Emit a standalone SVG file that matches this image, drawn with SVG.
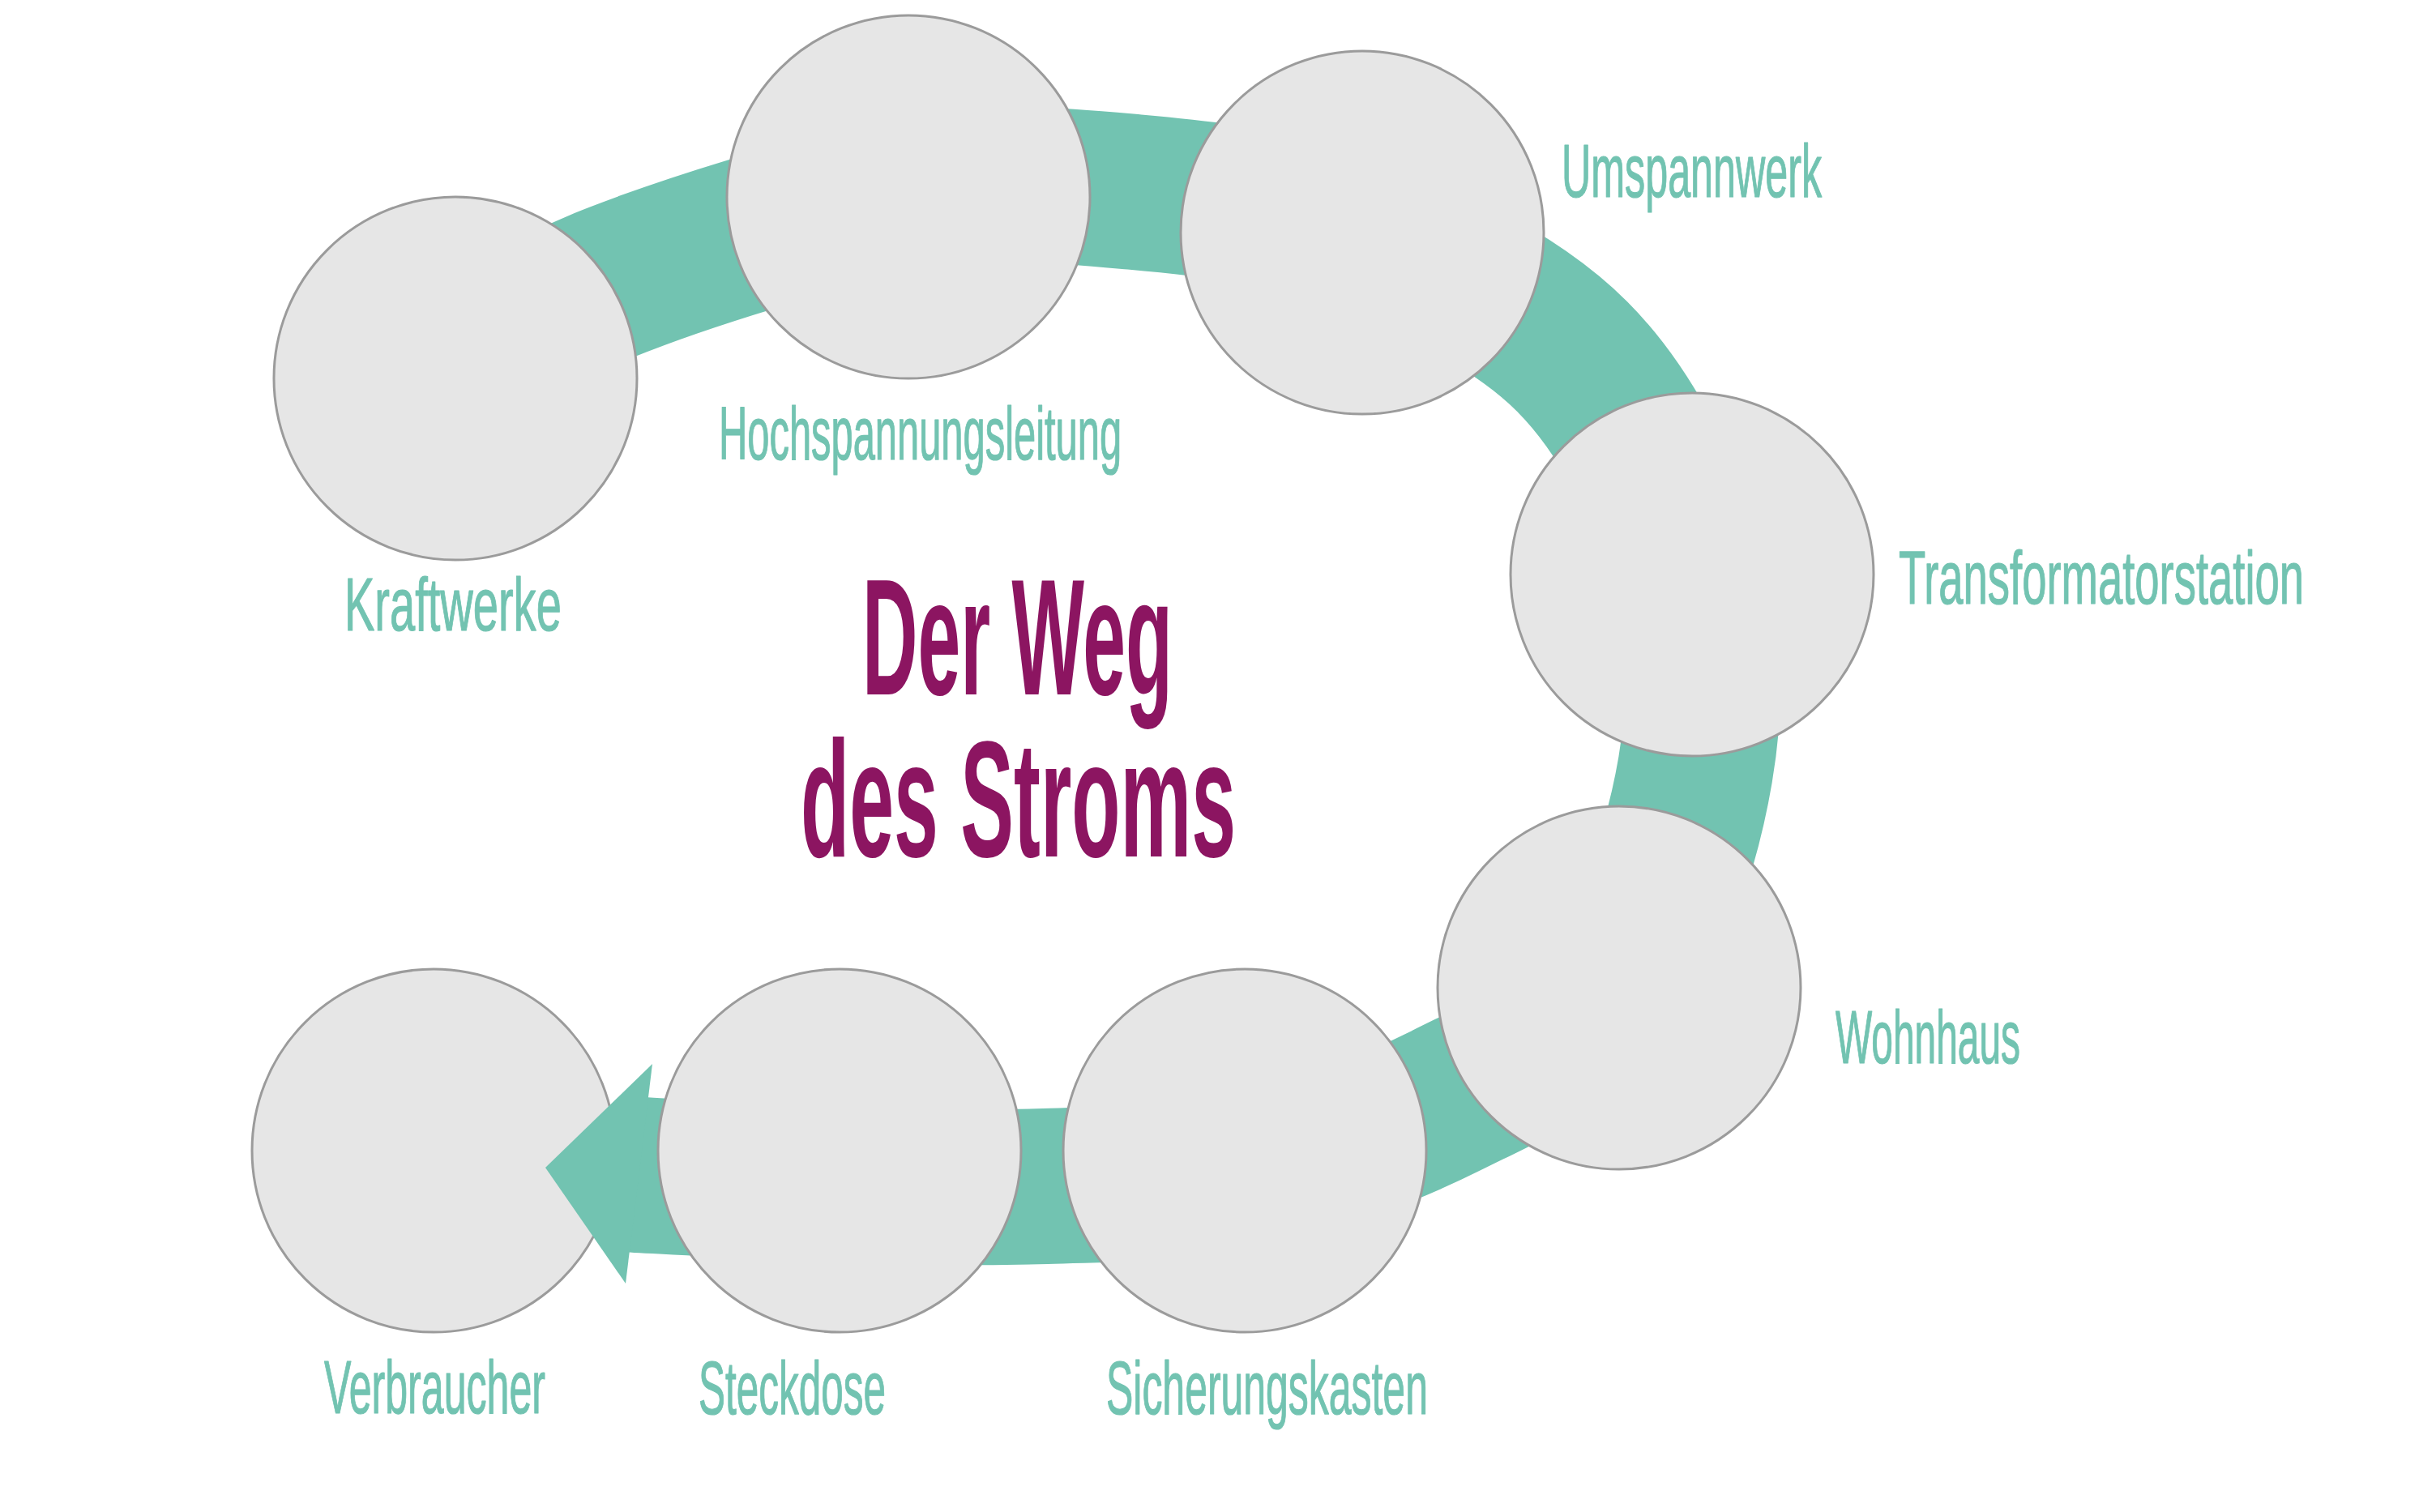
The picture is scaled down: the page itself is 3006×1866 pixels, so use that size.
<svg xmlns="http://www.w3.org/2000/svg" width="3006" height="1866" viewBox="0 0 3006 1866">
<style>
.node circle{fill:#E6E6E6;stroke:#9B9B9B;stroke-width:3}
.lbl{font-family:"Liberation Sans",Arial,sans-serif;font-size:92px;fill:#72C3B1;stroke:#72C3B1;stroke-width:1.2;stroke-linejoin:round}
.title{font-family:"Liberation Sans",Arial,sans-serif;font-size:205px;font-weight:bold;fill:#8C1561}
.band{fill:none;stroke:#72C3B1;stroke-width:192;stroke-linecap:butt}
.head{fill:#72C3B1}
</style>
<rect width="3006" height="1866" fill="#FFFFFF"/>
<g id="verbraucher" class="node">
<circle cx="535" cy="1420" r="224"/>
<text class="lbl" transform="translate(400,1744) scale(0.54,1)" textLength="505.6" lengthAdjust="spacingAndGlyphs">Verbraucher</text>
</g>
<g id="connectors">
<path class="band" d="M562,467 C592.5,447.8 651.8,389.8 745,352 C838.2,314.2 1011.8,259.2 1121,240 C1230.2,220.8 1306.7,228.7 1400,237 C1493.3,245.3 1591,256.2 1681,290 C1771,323.8 1873.5,373.3 1940,440 C2006.5,506.7 2054.7,605 2080,690 C2105.3,775 2107,861.7 2092,950 C2077,1038.3 2041.2,1152 1990,1220 C1938.8,1288 1860,1320.5 1785,1358 C1710,1395.5 1622.5,1427.3 1540,1445 C1457.5,1462.7 1374,1461.2 1290,1464 C1206,1466.8 1119.3,1464.3 1036,1462 C952.7,1459.7 811,1451 770,1449"/>
<polygon class="head" points="805,1313 673,1441 772,1584"/>
</g>
<g id="kraftwerke" class="node">
<circle cx="562" cy="467" r="224"/>
<text class="lbl" transform="translate(425,778) scale(0.61,1)" textLength="439" lengthAdjust="spacingAndGlyphs">Kraftwerke</text>
</g>
<g id="hochspannungsleitung" class="node">
<circle cx="1121" cy="243" r="224"/>
<text class="lbl" transform="translate(887,567) scale(0.53,1)" textLength="938" lengthAdjust="spacingAndGlyphs">Hochspannungsleitung</text>
</g>
<g id="umspannwerk" class="node">
<circle cx="1681" cy="287" r="224"/>
<text class="lbl" transform="translate(1927,243) scale(0.546,1)" textLength="588" lengthAdjust="spacingAndGlyphs">Umspannwerk</text>
</g>
<g id="transformatorstation" class="node">
<circle cx="2088" cy="709" r="224"/>
<text class="lbl" transform="translate(2343,745) scale(0.59,1)" textLength="847.5" lengthAdjust="spacingAndGlyphs">Transformatorstation</text>
</g>
<g id="wohnhaus" class="node">
<circle cx="1998" cy="1219" r="224"/>
<text class="lbl" transform="translate(2265,1312) scale(0.52,1)" textLength="438.5" lengthAdjust="spacingAndGlyphs">Wohnhaus</text>
</g>
<g id="sicherungskasten" class="node">
<circle cx="1536" cy="1420" r="224"/>
<text class="lbl" transform="translate(1365,1745) scale(0.54,1)" textLength="735" lengthAdjust="spacingAndGlyphs">Sicherungskasten</text>
</g>
<g id="steckdose" class="node">
<circle cx="1036" cy="1420" r="224"/>
<text class="lbl" transform="translate(862,1745) scale(0.54,1)" textLength="427.8" lengthAdjust="spacingAndGlyphs">Steckdose</text>
</g>
<g id="title">
<text class="title" transform="scale(0.47,1)"><tspan x="2263.8" y="857" textLength="815" lengthAdjust="spacingAndGlyphs">Der Weg</tspan><tspan x="2102.1" y="1057" textLength="1142.6" lengthAdjust="spacingAndGlyphs">des Stroms</tspan></text>
</g>
</svg>
